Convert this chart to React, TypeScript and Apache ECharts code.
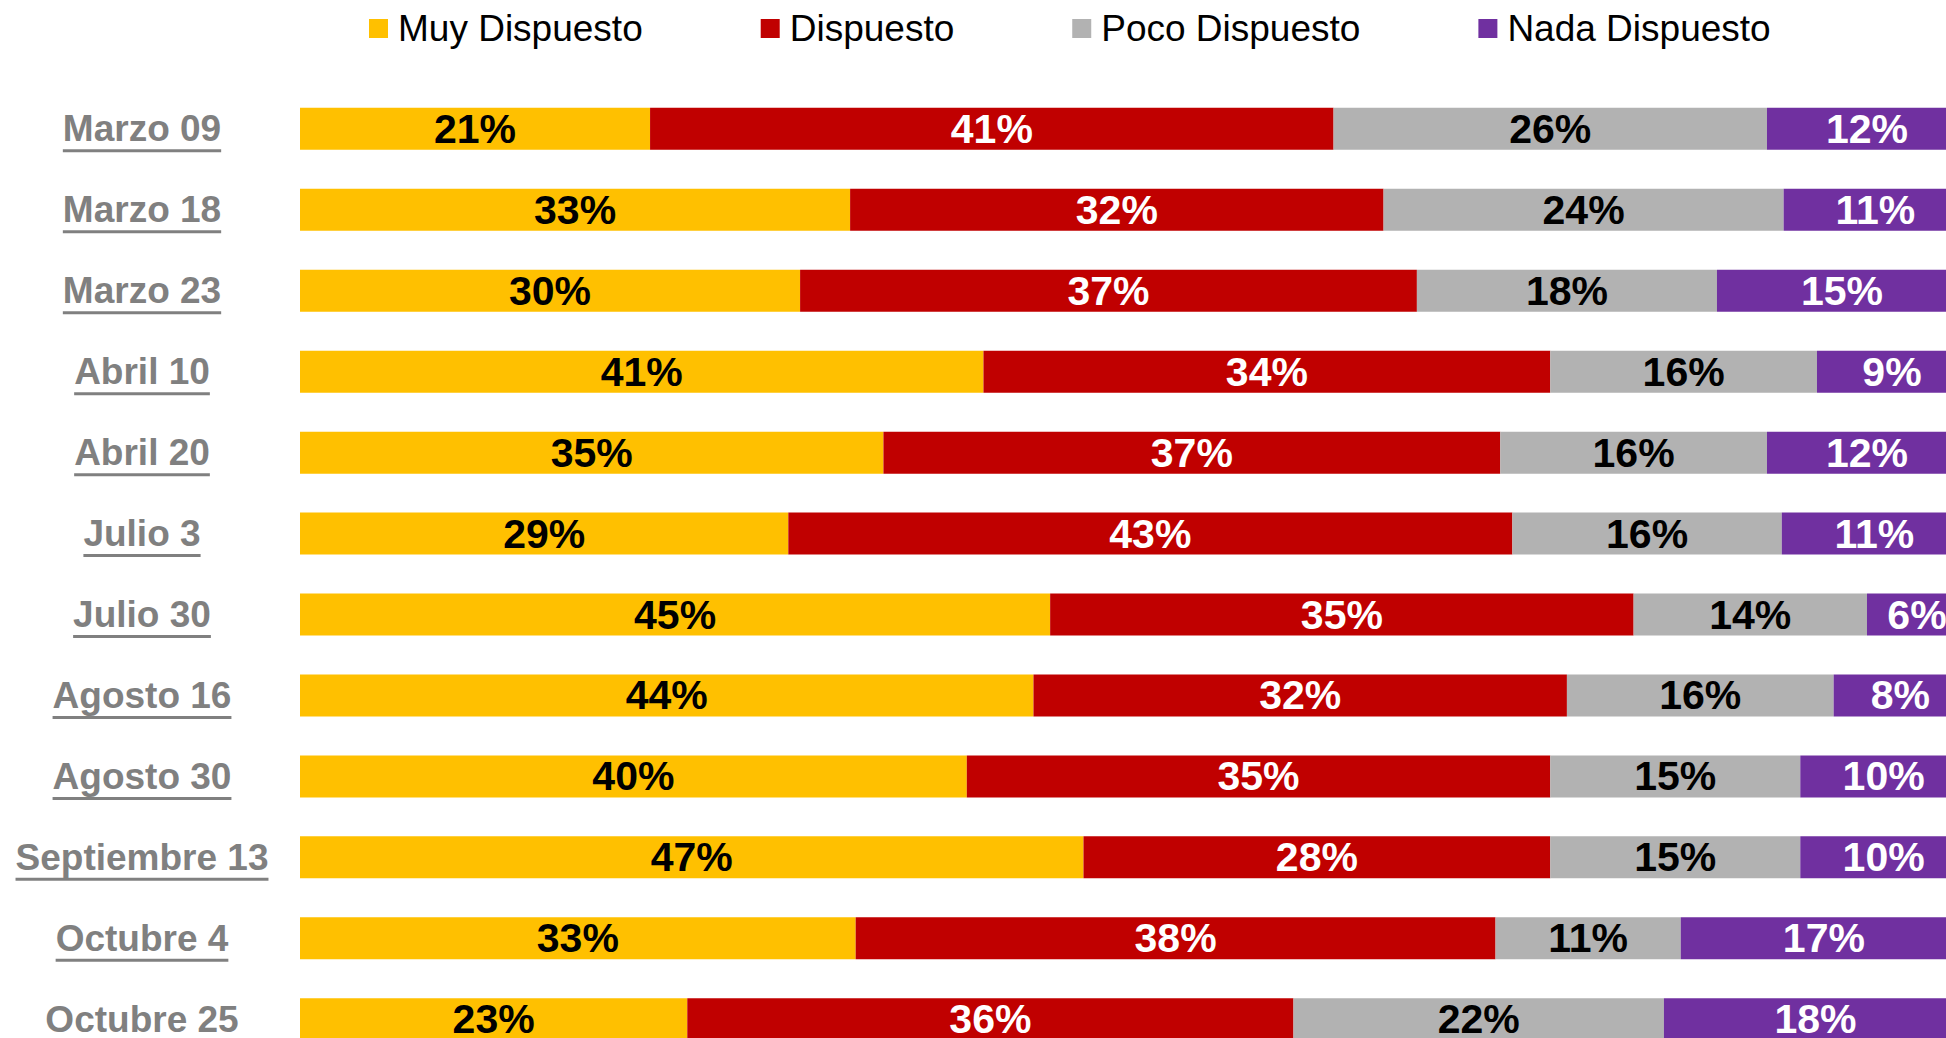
import React, { useEffect, useRef } from "react";
import * as echarts from "echarts";

const categories = [
  "Marzo 09", "Marzo 18", "Marzo 23", "Abril 10", "Abril 20", "Julio 3",
  "Julio 30", "Agosto 16", "Agosto 30", "Septiembre 13", "Octubre 4", "Octubre 25",
];
const seriesNames = ["Muy Dispuesto", "Dispuesto", "Poco Dispuesto", "Nada Dispuesto"];
const muyDispuesto = [21, 33, 30, 41, 35, 29, 45, 44, 40, 47, 33, 23];
const dispuesto = [41, 32, 37, 34, 37, 43, 35, 32, 35, 28, 38, 36];
const pocoDispuesto = [26, 24, 18, 16, 16, 16, 14, 16, 15, 15, 11, 22];
const nadaDispuesto = [12, 11, 15, 9, 12, 11, 6, 8, 10, 10, 17, 18];

const FONT = "'Liberation Sans', Arial, sans-serif";
const colors = ["#FFC000", "#C00000", "#B2B2B2", "#7030A0"];
const labelColors = ["#000000", "#FFFFFF", "#000000", "#FFFFFF"];

export default function App() {
  const ref = useRef<HTMLDivElement>(null);

  useEffect(() => {
    if (!ref.current) return;
    const chart = echarts.init(ref.current, null, { renderer: "svg" });
    const all = [muyDispuesto, dispuesto, pocoDispuesto, nadaDispuesto];
    const totals = categories.map((_, i) => all.reduce((s, arr) => s + arr[i], 0));

    const series = all.map((vals, k) => ({
      name: seriesNames[k],
      type: "bar",
      stack: "total",
      barWidth: 42,
      itemStyle: { color: colors[k] },
      data: vals.map((v, i) => (v / totals[i]) * 100),
      label: {
        show: true,
        position: "inside",
        formatter: (p: any) => vals[p.dataIndex] + "%",
        fontSize: 41,
        fontWeight: "bold",
        fontFamily: FONT,
        color: labelColors[k],
        padding: [4, 0, 0, 0],
      },
    }));

    const labelFontSize = 37;
    const option: any = {
      animation: false,
      legend: {
        data: seriesNames,
        left: 369,
        top: 10,
        padding: 0,
        itemGap: 118,
        itemWidth: 19,
        itemHeight: 19,
        icon: "rect",
        textStyle: {
          fontSize: 37,
          fontFamily: FONT,
          color: "#000000",
          padding: [0, 0, 0, 5],
        },
      },
      grid: { left: 300, top: 88.4, width: 1667, height: 971.3, containLabel: false },
      xAxis: {
        type: "value",
        min: 0,
        max: 100,
        show: false,
      },
      yAxis: {
        type: "category",
        inverse: true,
        data: categories,
        axisLine: { show: false },
        axisTick: { show: false },
        splitLine: { show: false },
        axisLabel: {
          align: "center",
          margin: 158,
          fontSize: labelFontSize,
          fontWeight: "bold",
          fontFamily: FONT,
          color: "#808080",
          padding: [10, 0, 0, 0],
        },
      },
      series,
    };
    chart.setOption(option);

    // underline the category labels
    const canvas = document.createElement("canvas");
    const ctx = canvas.getContext("2d");
    let widths = categories.map(() => 150);
    if (ctx) {
      ctx.font = `bold ${labelFontSize}px 'Liberation Sans', Arial, sans-serif`;
      widths = categories.map((c) => ctx.measureText(c).width);
    }
    const cx = 300 - 158;
    const lines = categories.map((c, i) => {
      const y = chart.convertToPixel({ yAxisIndex: 0 }, c) as number;
      return {
        type: "line",
        silent: true,
        shape: { x1: cx - widths[i] / 2, y1: y + 22, x2: cx + widths[i] / 2, y2: y + 22 },
        style: { stroke: "#808080", lineWidth: 3 },
      };
    });
    chart.setOption({ graphic: lines });

    return () => chart.dispose();
  }, []);

  return (
    <div
      style={{
        position: "fixed",
        left: 0,
        top: 0,
        width: 1946,
        height: 1038,
        overflow: "hidden",
        background: "#ffffff",
      }}
    >
      <div ref={ref} style={{ width: 2000, height: 1100 }} />
    </div>
  );
}
